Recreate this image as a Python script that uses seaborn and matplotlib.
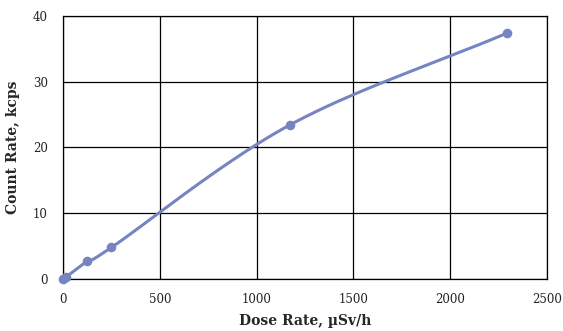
import numpy as np
import pandas as pd
import seaborn as sns
import matplotlib.pyplot as plt

# valores
dose_rate = [0, 15, 125, 250, 1170, 2295]
count_rate = [0.0, 0.3, 2.7, 4.8, 23.4, 37.4]
x_ticks = [0, 500, 1000, 1500, 2000, 2500]
y_ticks = [0, 10, 20, 30, 40]

sns.set_theme(style="white")
plt.rcParams['font.family'] = ['DejaVu Serif']

cor = '#7784c2'


def suavizar(x, y, n=40):
    # curva do tipo Catmull-Rom (linha suavizada)
    x = np.asarray(x, float)
    y = np.asarray(y, float)
    px = np.concatenate([[2 * x[0] - x[1]], x, [2 * x[-1] - x[-2]]])
    py = np.concatenate([[2 * y[0] - y[1]], y, [2 * y[-1] - y[-2]]])
    xs, ys = [], []
    t = np.linspace(0, 1, n)
    for i in range(1, len(px) - 2):
        for p, out in ((px, xs), (py, ys)):
            p0, p1, p2, p3 = p[i - 1], p[i], p[i + 1], p[i + 2]
            out.extend(0.5 * ((2 * p1) + (-p0 + p2) * t
                              + (2 * p0 - 5 * p1 + 4 * p2 - p3) * t ** 2
                              + (-p0 + 3 * p1 - 3 * p2 + p3) * t ** 3))
    return pd.DataFrame({'x': xs, 'y': ys})


curva = suavizar(dose_rate, count_rate)
pontos = pd.DataFrame({'x': dose_rate, 'y': count_rate})

fig = plt.figure(figsize=(5.63, 3.31), dpi=100)
ax = fig.add_axes([0.112, 0.157, 0.8596, 0.795])

sns.lineplot(data=curva, x='x', y='y', sort=False, color=cor, linewidth=2.2,
             ax=ax, clip_on=False, zorder=3)
sns.scatterplot(data=pontos, x='x', y='y', color=cor, s=48, linewidth=0,
                ax=ax, clip_on=False, zorder=4)

ax.set_xlim(0, 2500)
ax.set_ylim(0, 40)
ax.set_xticks(x_ticks)
ax.set_yticks(y_ticks)
ax.grid(True, color='black', linewidth=0.9)
for s in ax.spines.values():
    s.set_color('black')
    s.set_linewidth(0.9)
ax.tick_params(axis='y', length=0, labelsize=8.5, colors='#222222', pad=11)
ax.tick_params(axis='x', length=0, labelsize=8.5, colors='#222222', pad=10)

ax.set_xlabel('Dose Rate, µSv/h', fontsize=10, fontweight='bold', labelpad=6)
ax.set_ylabel('Count Rate, kcps', fontsize=10, fontweight='bold', labelpad=9)

fig.savefig('out.png', dpi=100)
